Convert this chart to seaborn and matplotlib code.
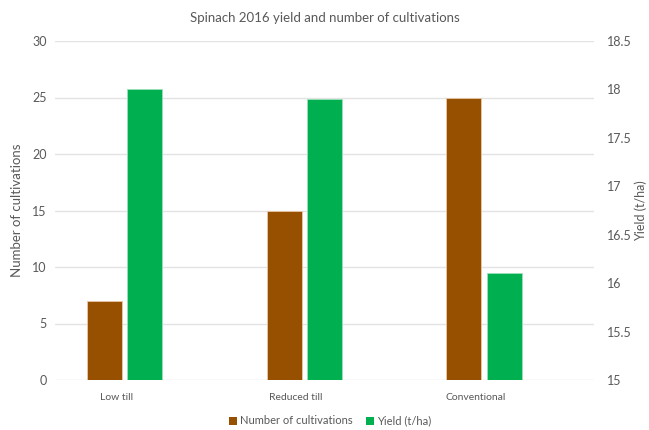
import matplotlib
matplotlib.use("Agg")
import matplotlib.pyplot as plt
import seaborn as sns
import pandas as pd
from matplotlib.patches import Patch

categories = ["Low till", "Reduced till", "Conventional"]
cultivations = [7, 15, 25]
yields = [18.0, 17.9, 16.1]

sns.set_theme(style="white")
plt.rcParams["font.family"] = ["Lato", "DejaVu Sans"]

BROWN = "#974F00"
GREEN = "#00B050"
GRAY = "#595959"

fig = plt.figure(figsize=(6.49, 4.30), dpi=100)
ax1 = fig.add_axes([55/649, 1-380/430, (594-55)/649, (380-41)/430])
ax2 = ax1.twinx()

df = pd.DataFrame({"cat": categories, "cult": cultivations, "yield": yields})

bw = 0.194
sns.barplot(data=df, x="cat", y="cult", ax=ax1, color=BROWN, width=bw,
            saturation=1, edgecolor="#E8C9A8", linewidth=0.6)
sns.barplot(data=df, x="cat", y="yield", ax=ax2, color=GREEN, width=bw,
            saturation=1, edgecolor="#9BE0B8", linewidth=0.6)

# brown bars sit left of the category centre, green bars centred
for p in ax1.patches:
    p.set_x(p.get_x() - 0.225)

ax1.set_xlim(-0.5, 2.5)
ax1.set_ylim(0, 30)
ax1.set_yticks([0, 5, 10, 15, 20, 25, 30])
ax2.set_ylim(15, 18.5)
ax2.set_yticks([15, 15.5, 16, 16.5, 17, 17.5, 18, 18.5])
ax2.set_yticklabels(["15", "15.5", "16", "16.5", "17", "17.5", "18", "18.5"])

ax1.set_xticks([i - 0.16 for i in range(len(categories))])
ax1.set_xticklabels(categories)

ax1.yaxis.grid(True, color="#E3E3E3", linewidth=1.0)
ax1.set_axisbelow(True)
ax2.grid(False)
for ax in (ax1, ax2):
    for s in ax.spines.values():
        s.set_visible(False)
    ax.tick_params(length=0)

ax1.tick_params(axis="y", labelsize=9, labelcolor=GRAY, pad=6)
ax1.tick_params(axis="x", labelsize=7.5, labelcolor=GRAY, pad=9)
ax2.tick_params(axis="y", labelsize=9, labelcolor=GRAY, pad=9)

ax1.set_xlabel("")
ax1.set_ylabel("Number of cultivations", fontsize=9.5, color=GRAY,
               rotation=90, va="center", ha="center")
ax1.yaxis.set_label_coords((17 - 55) / 539, 0.5)
ax2.set_ylabel("Yield (t/ha)", fontsize=9, color=GRAY, rotation=90,
               va="center", ha="center")
ax2.yaxis.set_label_coords((641 - 55) / 539, 0.5)

fig.suptitle("Spinach 2016 yield and number of cultivations", fontsize=9.5,
             color=GRAY, x=0.5, y=1 - 18/430, va="center")

handles = [Patch(facecolor=BROWN, edgecolor="none"),
           Patch(facecolor=GREEN, edgecolor="none")]
fig.legend(handles, ["Number of cultivations", "Yield (t/ha)"],
           loc="center", bbox_to_anchor=(330/649, 1 - 421/430), ncol=2,
           frameon=False, fontsize=8, labelcolor=GRAY,
           handlelength=0.7, handleheight=0.7, handletextpad=0.3,
           columnspacing=1.2)

fig.savefig("out.png", dpi=100)
